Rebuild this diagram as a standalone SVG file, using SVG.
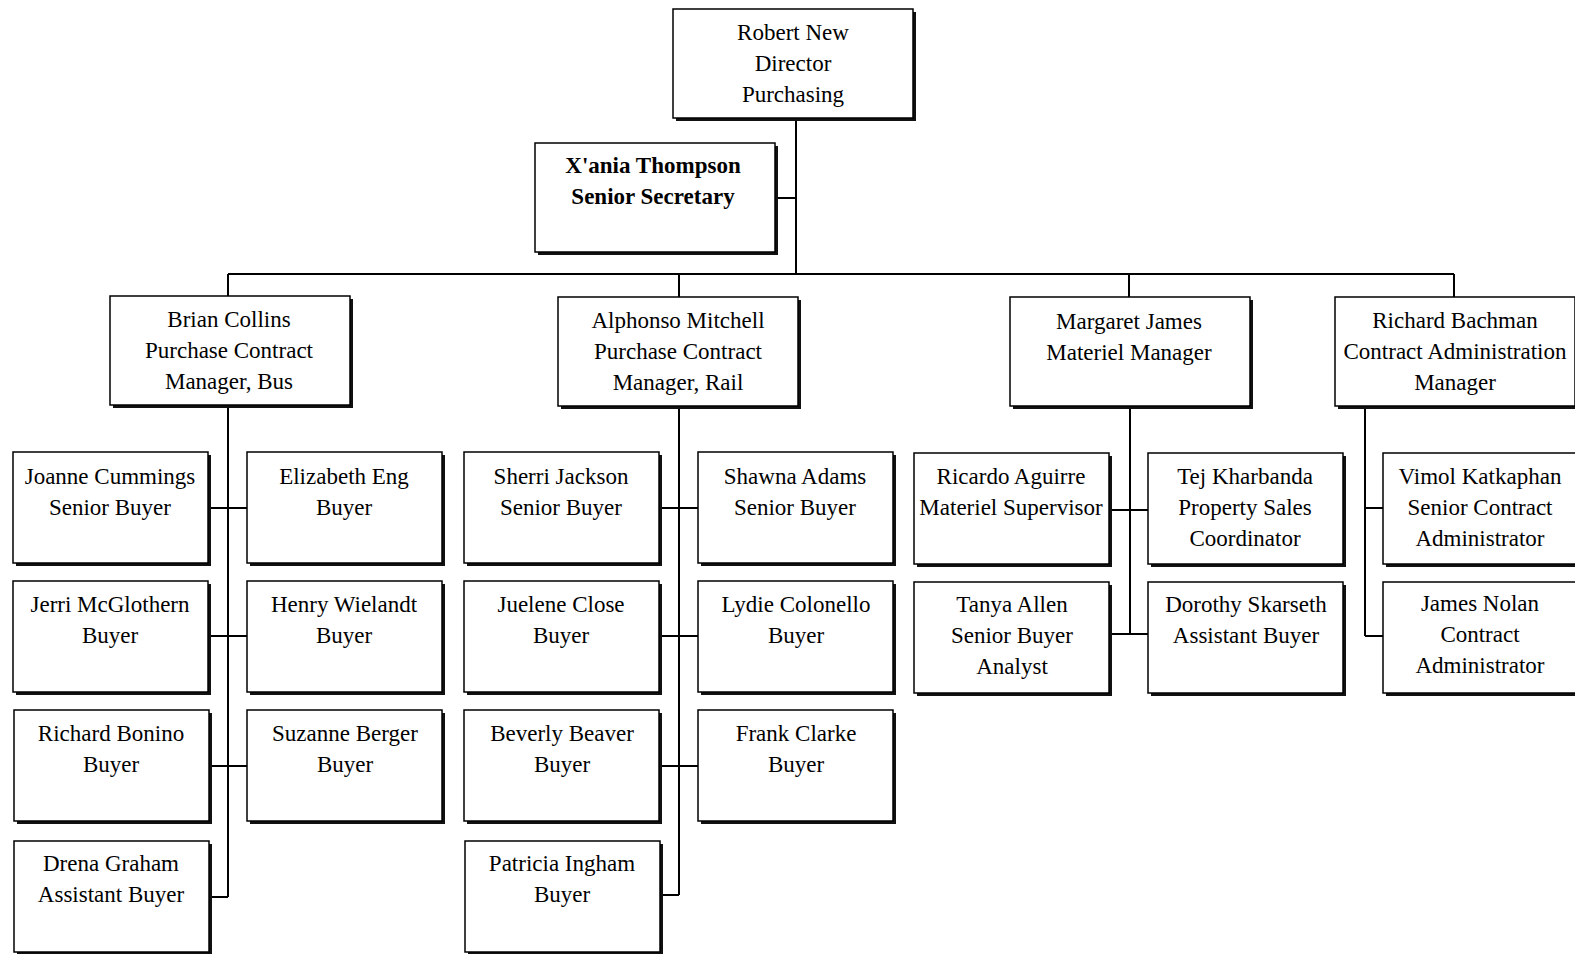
<svg xmlns="http://www.w3.org/2000/svg" width="1575" height="954" viewBox="0 0 1575 954">
<style>
.sh{fill:#111}
.bx{fill:#fff;stroke:#000;stroke-width:1.5}
.t{font-family:"Liberation Serif","Times New Roman",serif;font-size:23px;fill:#000;text-anchor:middle}
.b{font-weight:bold}
.c{stroke:#000;stroke-width:2;fill:none}
</style>
<defs>
<g id="s195"><rect class="sh" x="3" y="3" width="195" height="111"/><rect class="bx" x="0" y="0" width="195" height="111"/></g>
<g id="s240"><rect class="sh" x="3" y="3" width="240" height="109"/><rect class="bx" x="0" y="0" width="240" height="109"/></g>
</defs>
<rect width="1575" height="954" fill="#fff"/>
<g id="connectors">
<path class="c" d="M796 117V274M777 198H796M228 274H1454M228 274V296M679 274V297M1129 274V297M1454 274V297"/>
<path class="c" d="M228 407V897M208 508H247M208 636H247M208 766H247M208 897H228"/>
<path class="c" d="M679 408V895M660 508H698M660 636H698M660 766H698M660 895H679"/>
<path class="c" d="M1130 408V634M1109 510H1148M1109 634H1148"/>
<path class="c" d="M1365 407V636M1365 508H1383M1365 636H1383"/>
</g>
<g id="n-robert"><use href="#s240" x="673" y="9"/><text class="t" x="793"><tspan x="793" y="40">Robert New</tspan><tspan x="793" y="71">Director</tspan><tspan x="793" y="102">Purchasing</tspan></text></g>
<g id="n-xania"><use href="#s240" x="535" y="143"/><text class="t b" x="655"><tspan x="653" y="173">X'ania Thompson</tspan><tspan x="653" y="204">Senior Secretary</tspan></text></g>
<g id="n-brian"><use href="#s240" x="110" y="296"/><text class="t"><tspan x="229" y="327">Brian Collins</tspan><tspan x="229" y="358">Purchase Contract</tspan><tspan x="229" y="389">Manager, Bus</tspan></text></g>
<g id="n-alphonso"><use href="#s240" x="558" y="297"/><text class="t"><tspan x="678" y="328">Alphonso Mitchell</tspan><tspan x="678" y="359">Purchase Contract</tspan><tspan x="678" y="390">Manager, Rail</tspan></text></g>
<g id="n-margaret"><use href="#s240" x="1010" y="297"/><text class="t"><tspan x="1129" y="329">Margaret James</tspan><tspan x="1129" y="360">Materiel Manager</tspan></text></g>
<g id="n-bachman"><use href="#s240" x="1335" y="297"/><text class="t"><tspan x="1455" y="328">Richard Bachman</tspan><tspan x="1455" y="359">Contract Administration</tspan><tspan x="1455" y="390">Manager</tspan></text></g>

<g id="n-joanne"><use href="#s195" x="13" y="452"/><text class="t"><tspan x="110" y="484">Joanne Cummings</tspan><tspan x="110" y="515">Senior Buyer</tspan></text></g>
<g id="n-elizabeth"><use href="#s195" x="247" y="452"/><text class="t"><tspan x="344" y="484">Elizabeth Eng</tspan><tspan x="344" y="515">Buyer</tspan></text></g>
<g id="n-jerri"><use href="#s195" x="13" y="581"/><text class="t"><tspan x="110" y="612">Jerri McGlothern</tspan><tspan x="110" y="643">Buyer</tspan></text></g>
<g id="n-henry"><use href="#s195" x="247" y="581"/><text class="t"><tspan x="344" y="612">Henry Wielandt</tspan><tspan x="344" y="643">Buyer</tspan></text></g>
<g id="n-bonino"><use href="#s195" x="14" y="710"/><text class="t"><tspan x="111" y="741">Richard Bonino</tspan><tspan x="111" y="772">Buyer</tspan></text></g>
<g id="n-suzanne"><use href="#s195" x="247" y="710"/><text class="t"><tspan x="345" y="741">Suzanne Berger</tspan><tspan x="345" y="772">Buyer</tspan></text></g>
<g id="n-drena"><use href="#s195" x="14" y="841"/><text class="t"><tspan x="111" y="871">Drena Graham</tspan><tspan x="111" y="902">Assistant Buyer</tspan></text></g>

<g id="n-sherri"><use href="#s195" x="464" y="452"/><text class="t"><tspan x="561" y="484">Sherri Jackson</tspan><tspan x="561" y="515">Senior Buyer</tspan></text></g>
<g id="n-shawna"><use href="#s195" x="698" y="452"/><text class="t"><tspan x="795" y="484">Shawna Adams</tspan><tspan x="795" y="515">Senior Buyer</tspan></text></g>
<g id="n-juelene"><use href="#s195" x="464" y="581"/><text class="t"><tspan x="561" y="612">Juelene Close</tspan><tspan x="561" y="643">Buyer</tspan></text></g>
<g id="n-lydie"><use href="#s195" x="698" y="581"/><text class="t"><tspan x="796" y="612">Lydie Colonello</tspan><tspan x="796" y="643">Buyer</tspan></text></g>
<g id="n-beverly"><use href="#s195" x="464" y="710"/><text class="t"><tspan x="562" y="741">Beverly Beaver</tspan><tspan x="562" y="772">Buyer</tspan></text></g>
<g id="n-frank"><use href="#s195" x="698" y="710"/><text class="t"><tspan x="796" y="741">Frank Clarke</tspan><tspan x="796" y="772">Buyer</tspan></text></g>
<g id="n-patricia"><use href="#s195" x="465" y="841"/><text class="t"><tspan x="562" y="871">Patricia Ingham</tspan><tspan x="562" y="902">Buyer</tspan></text></g>

<g id="n-ricardo"><use href="#s195" x="914" y="453"/><text class="t"><tspan x="1011" y="484">Ricardo Aguirre</tspan><tspan x="1011" y="515">Materiel Supervisor</tspan></text></g>
<g id="n-tej"><use href="#s195" x="1148" y="453"/><text class="t"><tspan x="1245" y="484">Tej Kharbanda</tspan><tspan x="1245" y="515">Property Sales</tspan><tspan x="1245" y="546">Coordinator</tspan></text></g>
<g id="n-tanya"><use href="#s195" x="914" y="582"/><text class="t"><tspan x="1012" y="612">Tanya Allen</tspan><tspan x="1012" y="643">Senior Buyer</tspan><tspan x="1012" y="674">Analyst</tspan></text></g>
<g id="n-dorothy"><use href="#s195" x="1148" y="582"/><text class="t"><tspan x="1246" y="612">Dorothy Skarseth</tspan><tspan x="1246" y="643">Assistant Buyer</tspan></text></g>

<g id="n-vimol"><use href="#s195" x="1383" y="453"/><text class="t"><tspan x="1480" y="484">Vimol Katkaphan</tspan><tspan x="1480" y="515">Senior Contract</tspan><tspan x="1480" y="546">Administrator</tspan></text></g>
<g id="n-nolan"><use href="#s195" x="1383" y="582"/><text class="t"><tspan x="1480" y="611">James Nolan</tspan><tspan x="1480" y="642">Contract</tspan><tspan x="1480" y="673">Administrator</tspan></text></g>
</svg>
